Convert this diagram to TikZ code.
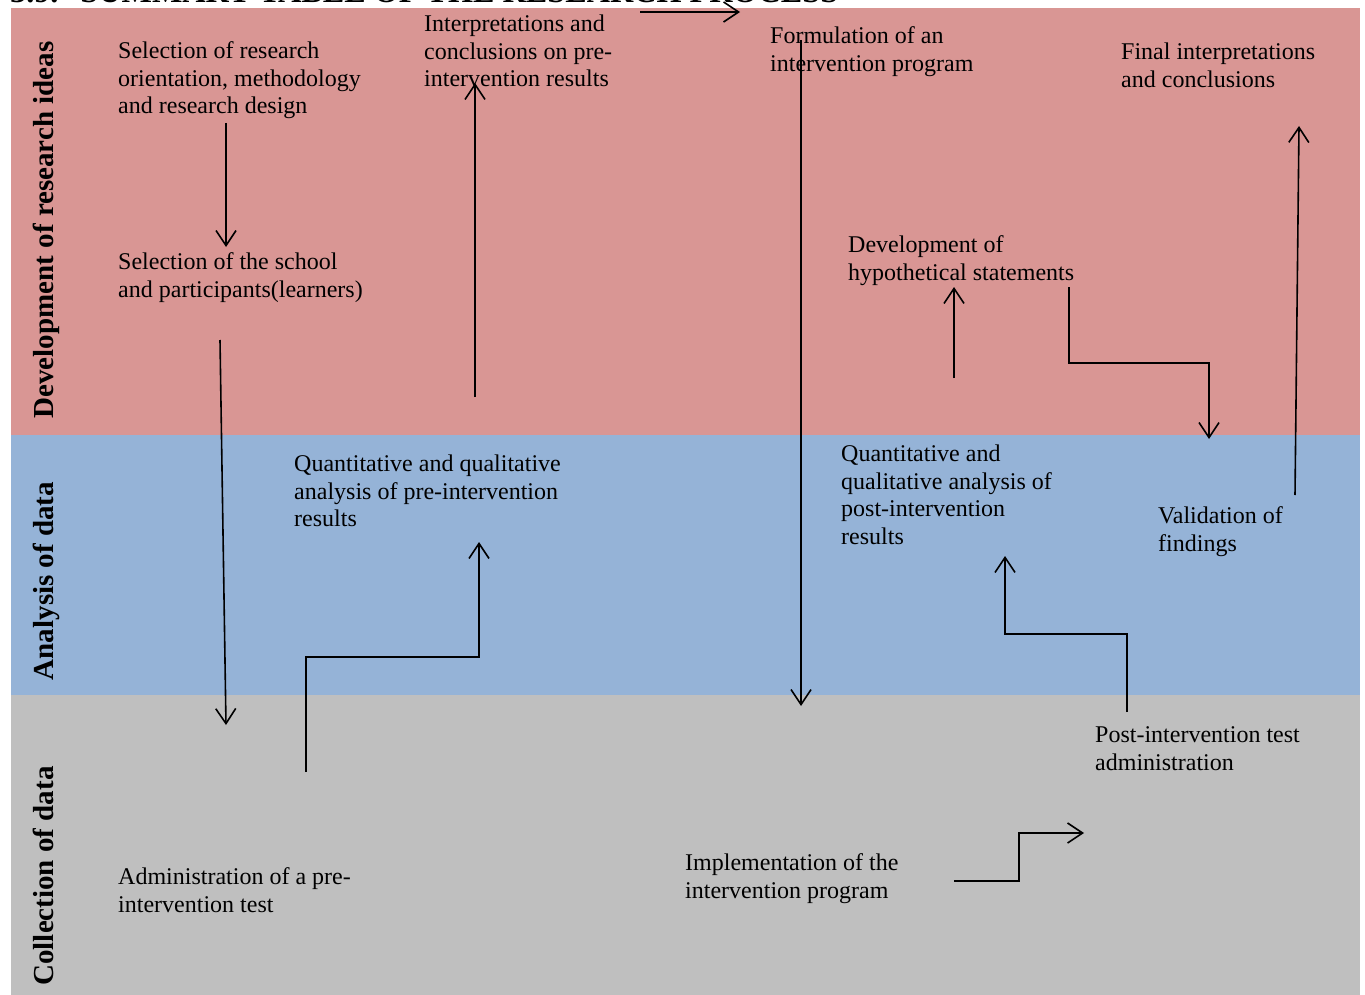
\documentclass[tikz,border=0pt]{standalone}
\usepackage{fontspec}
\setmainfont{Liberation Serif}
\usetikzlibrary{arrows.meta}
\definecolor{bandpink}{HTML}{D99694}
\definecolor{bandblue}{HTML}{95B3D7}
\definecolor{bandgray}{HTML}{BFBFBF}
\tikzset{
  txt/.style={anchor=base west, inner sep=0pt, align=left, font=\fontsize{24}{27.6}\selectfont},
  lbl/.style={rotate=90, anchor=base, inner sep=0pt, font=\fontsize{29}{32}\selectfont\bfseries},
  flow/.style={line width=1.6pt, -{Straight Barb[length=15pt,width=20pt,line width=1.6pt]}},
}
\begin{document}
\begin{tikzpicture}[x=1pt,y=-1pt]
\useasboundingbox (0,0) rectangle (1365,995);
\clip (0,0) rectangle (1365,995);
% title (cut off at top)
\node[anchor=base west, inner sep=0pt, font=\fontsize{32.2}{34}\selectfont\bfseries] (title) at (10,3) {3.9.\hspace{22pt}SUMMARY TABLE OF THE RESEARCH PROCESS};
% bands
\fill[bandpink] (11,8) rectangle (1360,435);
\fill[bandblue] (11,435) rectangle (1360,695);
\fill[bandgray] (11,695) rectangle (1360,995);
% row labels
\node[lbl] (l1) at (53,230) {Development of research ideas};
\node[lbl] (l2) at (53,581) {Analysis of data};
\node[lbl] (l3) at (53,876) {Collection of data};
% texts (anchor = baseline of last line)
\node[txt] (t1) at (118,113.7) {Selection of research\\orientation, methodology\\and research design};
\node[txt] (t2) at (118,297.1) {Selection of the school\\and participants(learners)};
\node[txt] (t3) at (424,86.7) {Interpretations and\\conclusions on pre-\\intervention results};
\node[txt] (t4) at (770,71.1) {Formulation of an\\intervention program};
\node[txt] (t5) at (1121,87.1) {Final interpretations\\and conclusions};
\node[txt] (t6) at (848,280.1) {Development of\\hypothetical statements};
\node[txt] (t7) at (294,526.7) {Quantitative and qualitative\\analysis of pre-intervention\\results};
\node[txt] (t8) at (841,544.3) {Quantitative and\\qualitative analysis of\\post-intervention\\results};
\node[txt] (t9) at (1158,551.1) {Validation of\\findings};
\node[txt] (t10) at (1095,770.1) {Post-intervention test\\administration};
\node[txt] (t11) at (685,898.1) {Implementation of the\\intervention program};
\node[txt] (t12) at (118,912.1) {Administration of a pre-\\intervention test};
% arrow end points
\coordinate (a0s) at (640,12);   \coordinate (a0e) at (740,12);
\coordinate (a1s) at (226,123);  \coordinate (a1e) at (226,247);
\coordinate (a2s) at (220,340);  \coordinate (a2e) at (226,725);
\coordinate (a3s) at (475,397);  \coordinate (a3e) at (475,83);
\coordinate (a4s) at (306,772);  \coordinate (a4m) at (306,657); \coordinate (a4n) at (479,657); \coordinate (a4e) at (479,542);
\coordinate (a5s) at (801,40);   \coordinate (a5e) at (801,706);
\coordinate (a6s) at (954,378);  \coordinate (a6e) at (954,287);
\coordinate (a7s) at (1069,287); \coordinate (a7m) at (1069,363); \coordinate (a7n) at (1209,363); \coordinate (a7e) at (1209,439);
\coordinate (a8s) at (1295,495); \coordinate (a8e) at (1299,126);
\coordinate (a9s) at (1127,712); \coordinate (a9m) at (1127,634); \coordinate (a9n) at (1005,634); \coordinate (a9e) at (1005,556);
\coordinate (a10s) at (954,881); \coordinate (a10m) at (1019,881); \coordinate (a10n) at (1019,833); \coordinate (a10e) at (1084,833);
% arrows
\draw[flow] (a0s) -- (a0e);
\draw[flow] (a1s) -- (a1e);
\draw[flow] (a2s) -- (a2e);
\draw[flow] (a3s) -- (a3e);
\draw[flow] (a4s) -- (a4m) -- (a4n) -- (a4e);
\draw[flow] (a5s) -- (a5e);
\draw[flow] (a6s) -- (a6e);
\draw[flow] (a7s) -- (a7m) -- (a7n) -- (a7e);
\draw[flow] (a8s) -- (a8e);
\draw[flow] (a9s) -- (a9m) -- (a9n) -- (a9e);
\draw[flow] (a10s) -- (a10m) -- (a10n) -- (a10e);
\end{tikzpicture}
\end{document}
